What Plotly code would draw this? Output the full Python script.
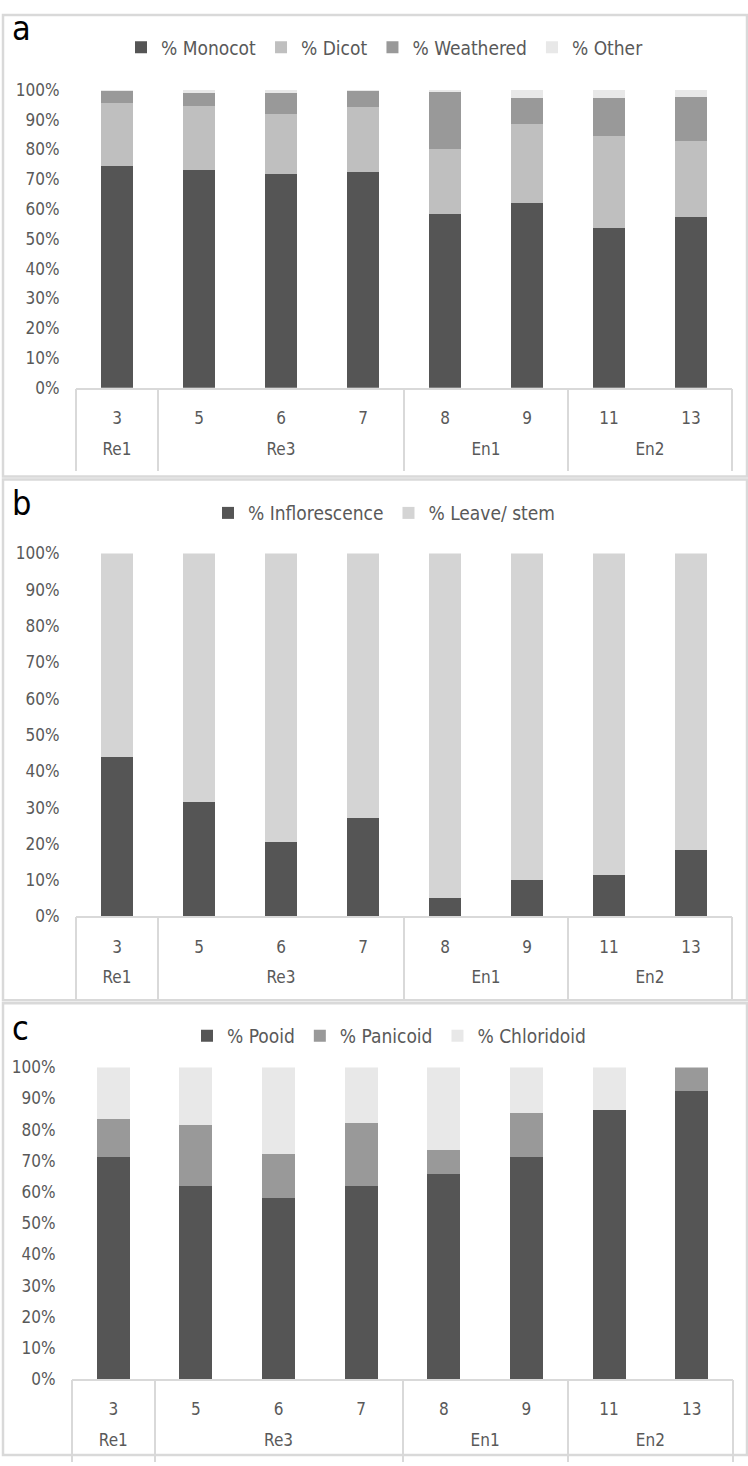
import plotly.graph_objects as go
from plotly.subplots import make_subplots

# categories
groups = ["Re1", "Re3", "Re3", "Re3", "En1", "En1", "En2", "En2"]
samples = ["3", "5", "6", "7", "8", "9", "11", "13"]

# panel a
monocot = [74.5, 73.0, 71.7, 72.4, 58.5, 62.1, 53.7, 57.4]
dicot = [21.0, 21.7, 20.2, 22.0, 21.6, 26.6, 30.8, 25.6]
weathered = [4.3, 4.2, 7.2, 5.5, 19.3, 8.6, 12.8, 14.7]
other = [0.2, 1.1, 0.9, 0.1, 0.6, 2.7, 2.7, 2.3]

# panel b
inflorescence = [44.0, 31.5, 20.4, 27.2, 5.1, 10.0, 11.4, 18.3]
leave_stem = [56.0, 68.5, 79.6, 72.8, 94.9, 90.0, 88.6, 81.7]

# panel c
pooid = [71.1, 61.9, 58.2, 62.0, 65.9, 71.4, 86.2, 92.4]
panicoid = [12.4, 19.7, 14.0, 20.2, 7.5, 14.0, 0.0, 7.6]
chloridoid = [16.5, 18.4, 27.8, 17.8, 26.6, 14.6, 13.8, 0.0]

W, H = 748, 1466
FONT = "DejaVu Sans Condensed, DejaVu Sans, sans-serif"
GREY_TXT = "#595959"
LINE = "#d9d9d9"

# group label positions / divider positions on the category index scale
group_names, group_centers, group_bounds = [], [], []
for i, g in enumerate(groups):
    if not group_names or group_names[-1] != g:
        group_names.append(g)
        idx = [k for k, gg in enumerate(groups) if gg == g]
        group_centers.append((idx[0] + idx[-1]) / 2)
        group_bounds.append(idx[0] - 0.5)
group_bounds.append(len(groups) - 0.5)

fig = make_subplots(rows=3, cols=1)

panels = [
    (1, "legend", [("% Monocot", monocot, "#555555"), ("% Dicot", dicot, "#bfbfbf"),
                   ("% Weathered", weathered, "#999999"), ("% Other", other, "#e8e8e8")]),
    (2, "legend2", [("% Inflorescence", inflorescence, "#555555"),
                    ("% Leave/ stem", leave_stem, "#d4d4d4")]),
    (3, "legend3", [("% Pooid", pooid, "#555555"), ("% Panicoid", panicoid, "#999999"),
                    ("% Chloridoid", chloridoid, "#e8e8e8")]),
]
for row, leg, series in panels:
    for name, vals, col in series:
        fig.add_trace(go.Bar(x=samples, y=vals, name=name, marker_color=col,
                             marker_line_width=0, legend=leg), row=row, col=1)

def py(px):
    return 1 - px / H

def pxx(px):
    return px / W

# plot area geometry (pixels)
ydom = [(383, 81), (919, 551), (1388, 1072)]
xdom = [(76, 732), (76, 732), (72, 733)]
tickfont = dict(family=FONT, size=17, color=GREY_TXT)
for i in range(3):
    fig.update_yaxes(domain=[py(ydom[i][0]), py(ydom[i][1])], range=[0, 100], dtick=10,
                     ticksuffix="%", showgrid=False, zeroline=False, showline=False,
                     ticks="outside", ticklen=12, tickcolor="rgba(0,0,0,0)",
                     tickfont=tickfont, row=i + 1, col=1)
    fig.update_xaxes(domain=[pxx(xdom[i][0]), pxx(xdom[i][1])], type="category",
                     categoryorder="array", categoryarray=samples,
                     range=[-0.5, len(samples) - 0.5], showline=True,
                     linecolor=LINE, linewidth=2, showgrid=False,
                     ticks="", ticklabelstandoff=14,
                     tickfont=tickfont, row=i + 1, col=1)

# second axis level: group names + dividers
group_axes = {}
for i in range(3):
    xname = "x%d" % (i + 4)
    yname = "y" if i == 0 else "y%d" % (i + 1)
    base = "x" if i == 0 else "x%d" % (i + 1)
    group_axes["xaxis%d" % (i + 4)] = dict(
        overlaying=base, anchor=yname, side="bottom",
        type="linear", range=[-0.5, len(samples) - 0.5],
        tickmode="array", tickvals=group_centers, ticktext=group_names,
        ticks="", ticklabelstandoff=49, showline=False, showgrid=False, zeroline=False,
        tickfont=tickfont,
        minor=dict(tickmode="array", tickvals=group_bounds, ticks="outside",
                   ticklen=82, tickwidth=1.5, tickcolor=LINE, showgrid=False),
    )
    # empty trace so the group axis gets drawn
    fig.add_trace(go.Scatter(x=group_centers, y=[None] * len(group_centers),
                             xaxis=xname, yaxis=yname, mode="markers",
                             showlegend=False, hoverinfo="skip"))

legend_style = dict(orientation="h", xanchor="center", yanchor="middle",
                    font=dict(family=FONT, size=19, color=GREY_TXT),
                    bgcolor="rgba(0,0,0,0)", itemwidth=30, traceorder="normal")
fig.update_layout(
    barmode="stack",
    bargap=0.6,
    width=W, height=H,
    margin=dict(l=0, r=0, t=0, b=0),
    plot_bgcolor="white", paper_bgcolor="white",
    showlegend=True,
    legend=dict(x=pxx(385), y=py(38), **legend_style),
    legend2=dict(x=pxx(384), y=py(510), **legend_style),
    legend3=dict(x=pxx(389), y=py(1040), **legend_style),
    **group_axes,
)

# panel borders
for top, bot in [(5, 473), (476, 1004), (1007, 1465)]:
    fig.add_shape(type="rect", xref="paper", yref="paper", x0=pxx(3), x1=pxx(747),
                  y0=py(bot), y1=py(top), line=dict(color=LINE, width=2.5), layer="below")

# panel letters
for letter, ypos in [("a", 18), ("b", 500), ("c", 1032)]:
    fig.add_annotation(text=letter, xref="paper", yref="paper", x=pxx(10), y=py(ypos),
                       xanchor="left", yanchor="middle", showarrow=False,
                       font=dict(family=FONT, size=34, color="black"))

fig.write_html("out.html", config={"displayModeBar": False},
               post_script="document.body.style.margin = '0';")
